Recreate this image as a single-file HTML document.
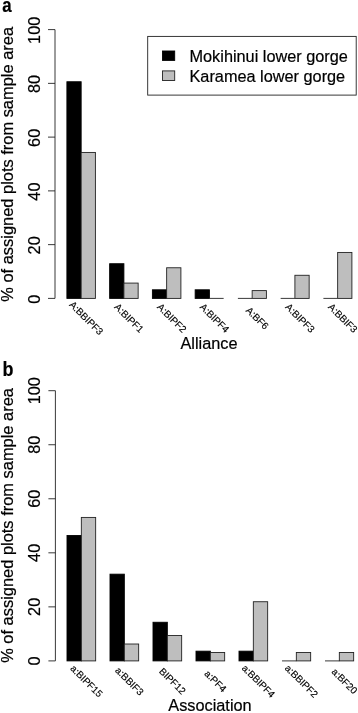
<!DOCTYPE html>
<html><head><meta charset="utf-8"><title>Figure</title>
<style>
html,body{margin:0;padding:0;background:#fff;}
body{width:358px;height:713px;overflow:hidden;}
svg{display:block;}
text{font-family:"Liberation Sans",Arial,Helvetica,sans-serif;fill:#000;stroke:#000;stroke-width:0.2px;}
.t{font-size:16.3px;}
.xl{font-size:9.8px;stroke-width:0.15px;}
.yt{font-size:16.43px;}
.tag{font-size:19.8px;font-weight:bold;}
.ln{stroke:#222;stroke-width:0.9;fill:none;}
.bk{fill:#000;stroke:#000;stroke-width:0.9;}
.gy{fill:#bebebe;stroke:#222;stroke-width:0.9;}
</style></head><body>
<svg width="358" height="713" viewBox="0 0 358 713">
<rect x="0" y="0" width="358" height="713" fill="#fff"/>
<g>
<text class="tag" style="font-size:19.8px" transform="translate(2.2 11.9) scale(0.85 1)">a</text>
<path class="ln" d="M55.00 29.60V298.40"/>
<path class="ln" d="M48.00 298.40H55.00"/>
<text class="t" text-anchor="middle" transform="translate(39.5 299.10) rotate(-90)">0</text>
<path class="ln" d="M48.00 244.64H55.00"/>
<text class="t" text-anchor="middle" transform="translate(39.5 245.34) rotate(-90)">20</text>
<path class="ln" d="M48.00 190.88H55.00"/>
<text class="t" text-anchor="middle" transform="translate(39.5 191.58) rotate(-90)">40</text>
<path class="ln" d="M48.00 137.12H55.00"/>
<text class="t" text-anchor="middle" transform="translate(39.5 137.82) rotate(-90)">60</text>
<path class="ln" d="M48.00 83.36H55.00"/>
<text class="t" text-anchor="middle" transform="translate(39.5 84.06) rotate(-90)">80</text>
<path class="ln" d="M48.00 29.60H55.00"/>
<text class="t" text-anchor="middle" transform="translate(39.5 30.30) rotate(-90)">100</text>
<text class="t yt" text-anchor="middle" transform="translate(13.3 164.35) rotate(-90)">% of assigned plots from sample area</text>
<rect class="bk" x="66.90" y="81.75" width="14.25" height="216.65"/>
<rect class="gy" x="81.15" y="152.44" width="14.25" height="145.96"/>
<text class="xl" text-anchor="middle" transform="translate(83.90 320.50) rotate(45)">A:BBIPF3</text>
<rect class="bk" x="109.65" y="263.72" width="14.25" height="34.68"/>
<rect class="gy" x="123.90" y="283.08" width="14.25" height="15.32"/>
<text class="xl" text-anchor="middle" transform="translate(126.65 320.50) rotate(45)">A:BIPF1</text>
<rect class="bk" x="152.40" y="289.80" width="14.25" height="8.60"/>
<rect class="gy" x="166.65" y="267.76" width="14.25" height="30.64"/>
<text class="xl" text-anchor="middle" transform="translate(169.40 320.50) rotate(45)">A:BIPF2</text>
<rect class="bk" x="195.15" y="289.80" width="14.25" height="8.60"/>
<path class="ln" d="M209.40 298.40H223.65"/>
<text class="xl" text-anchor="middle" transform="translate(212.15 320.50) rotate(45)">A:BIPF4</text>
<path class="ln" d="M237.90 298.40H252.15"/>
<rect class="gy" x="252.15" y="290.60" width="14.25" height="7.80"/>
<text class="xl" text-anchor="middle" transform="translate(254.90 320.50) rotate(45)">A:BF6</text>
<path class="ln" d="M280.65 298.40H294.90"/>
<rect class="gy" x="294.90" y="275.28" width="14.25" height="23.12"/>
<text class="xl" text-anchor="middle" transform="translate(297.65 320.50) rotate(45)">A:BIPF3</text>
<path class="ln" d="M323.40 298.40H337.65"/>
<rect class="gy" x="337.65" y="252.44" width="14.25" height="45.96"/>
<text class="xl" text-anchor="middle" transform="translate(340.40 320.50) rotate(45)">A:BBIF3</text>
<text class="t" text-anchor="middle" x="209.0" y="348.5">Alliance</text>
</g>
<g>
<text class="tag" style="font-size:20.4px" transform="translate(2.5 375.5) scale(0.88 1)">b</text>
<path class="ln" d="M55.40 390.70V660.90"/>
<path class="ln" d="M48.40 660.90H55.40"/>
<text class="t" text-anchor="middle" transform="translate(39.5 660.90) rotate(-90)">0</text>
<path class="ln" d="M48.40 606.86H55.40"/>
<text class="t" text-anchor="middle" transform="translate(39.5 606.86) rotate(-90)">20</text>
<path class="ln" d="M48.40 552.82H55.40"/>
<text class="t" text-anchor="middle" transform="translate(39.5 552.82) rotate(-90)">40</text>
<path class="ln" d="M48.40 498.78H55.40"/>
<text class="t" text-anchor="middle" transform="translate(39.5 498.78) rotate(-90)">60</text>
<path class="ln" d="M48.40 444.74H55.40"/>
<text class="t" text-anchor="middle" transform="translate(39.5 444.74) rotate(-90)">80</text>
<path class="ln" d="M48.40 390.70H55.40"/>
<text class="t" text-anchor="middle" transform="translate(39.5 390.70) rotate(-90)">100</text>
<text class="t yt" text-anchor="middle" transform="translate(13.3 525.45) rotate(-90)">% of assigned plots from sample area</text>
<rect class="bk" x="67.00" y="535.53" width="14.33" height="125.37"/>
<rect class="gy" x="81.33" y="517.42" width="14.33" height="143.48"/>
<text class="xl" text-anchor="middle" transform="translate(84.08 683.50) rotate(45)">a:BIPF15</text>
<rect class="bk" x="110.00" y="574.17" width="14.33" height="86.73"/>
<rect class="gy" x="124.33" y="644.01" width="14.33" height="16.89"/>
<text class="xl" text-anchor="middle" transform="translate(127.08 683.50) rotate(45)">a:BBIF3</text>
<rect class="bk" x="153.00" y="622.26" width="14.33" height="38.64"/>
<rect class="gy" x="167.33" y="635.50" width="14.33" height="25.40"/>
<text class="xl" text-anchor="middle" transform="translate(170.08 683.50) rotate(45)">BIPF12</text>
<rect class="bk" x="196.00" y="651.17" width="14.33" height="9.73"/>
<rect class="gy" x="210.33" y="652.52" width="14.33" height="8.38"/>
<text class="xl" text-anchor="middle" transform="translate(213.08 683.50) rotate(45)">a:PF4</text>
<rect class="bk" x="239.00" y="651.17" width="14.33" height="9.73"/>
<rect class="gy" x="253.33" y="601.73" width="14.33" height="59.17"/>
<text class="xl" text-anchor="middle" transform="translate(256.08 683.50) rotate(45)">a:BBIPF4</text>
<path class="ln" d="M282.00 660.90H296.33"/>
<rect class="gy" x="296.33" y="652.52" width="14.33" height="8.38"/>
<text class="xl" text-anchor="middle" transform="translate(299.08 683.50) rotate(45)">a:BBIPF2</text>
<path class="ln" d="M325.00 660.90H339.33"/>
<rect class="gy" x="339.33" y="652.52" width="14.33" height="8.38"/>
<text class="xl" text-anchor="middle" transform="translate(342.08 683.50) rotate(45)">a:BF20</text>
<text class="t" text-anchor="middle" x="210.0" y="710.5">Association</text>
</g>
<g>
<rect class="ln" x="147.7" y="36.4" width="208.5" height="58.7" fill="#fff"/>
<rect class="bk" x="162.5" y="51.0" width="12.2" height="9.4"/>
<rect class="gy" x="162.5" y="70.9" width="12.2" height="9.6"/>
<text class="t" x="189.5" y="61.7">Mokihinui lower gorge</text>
<text class="t" x="189.5" y="81.6">Karamea lower gorge</text>
</g>
</svg></body></html>
